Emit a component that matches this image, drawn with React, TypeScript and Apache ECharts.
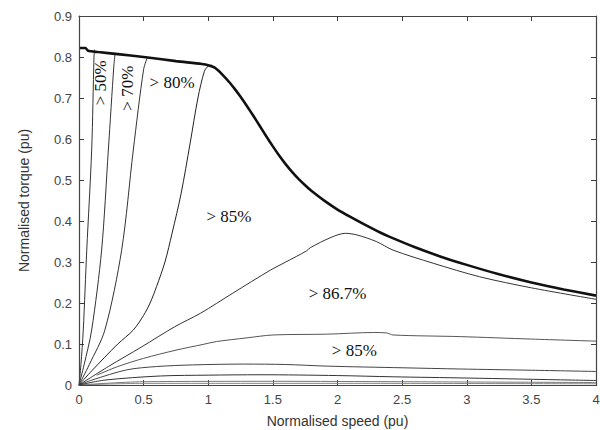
import React, { useEffect, useRef } from "react";
import * as echarts from "echarts";

const xTicks = { min: 0, max: 4, interval: 0.5 };
const yTicks = { min: 0, max: 0.9, interval: 0.1 };

const envX = [0, 0.05, 0.07, 0.15, 0.3, 0.5, 0.75, 0.95, 1.0, 1.05, 1.1, 1.17, 1.2, 1.25, 1.3, 1.35, 1.4, 1.45, 1.5, 1.55, 1.6, 1.65, 1.7, 1.76, 1.8, 1.9, 2.0, 2.1, 2.2, 2.33, 2.4, 2.6, 2.8, 3.0, 3.25, 3.5, 3.75, 4.0];
const envY = [0.822, 0.822, 0.815, 0.812, 0.807, 0.8, 0.79, 0.783, 0.78, 0.774, 0.76, 0.736, 0.724, 0.703, 0.68, 0.656, 0.631, 0.606, 0.582, 0.559, 0.538, 0.519, 0.502, 0.484, 0.473, 0.449, 0.428, 0.41, 0.393, 0.372, 0.362, 0.336, 0.313, 0.293, 0.27, 0.25, 0.233, 0.218];

const c1X = [0, 0.015, 0.033, 0.06, 0.098, 0.116, 0.12];
const c1Y = [0, 0.05, 0.134, 0.329, 0.573, 0.8, 0.818];
const c2X = [0, 0.04, 0.098, 0.175, 0.227, 0.27, 0.28];
const c2Y = [0, 0.05, 0.134, 0.329, 0.573, 0.78, 0.81];
const c3X = [0, 0.08, 0.2, 0.33, 0.42, 0.5, 0.53];
const c3Y = [0, 0.05, 0.134, 0.329, 0.573, 0.77, 0.8];
const c4X = [0, 0.1, 0.3, 0.42, 0.5, 0.55, 0.6, 0.665, 0.72, 0.79, 0.86, 0.92, 0.97, 1.0, 1.03];
const c4Y = [0, 0.035, 0.1, 0.134, 0.17, 0.2, 0.24, 0.3, 0.37, 0.467, 0.59, 0.7, 0.765, 0.778, 0.78];
const c5X = [0, 0.227, 0.485, 0.74, 0.94, 1.19, 1.48, 1.6, 1.76, 1.79, 1.95, 2.06, 2.15, 2.3, 2.43, 2.74, 3.1, 3.5, 4.0];
const c5Y = [0, 0.045, 0.093, 0.142, 0.175, 0.224, 0.28, 0.3, 0.327, 0.335, 0.36, 0.37, 0.366, 0.35, 0.329, 0.297, 0.264, 0.237, 0.209];
const c6X = [0.137, 0.3, 0.5, 0.75, 0.96, 1.065, 1.3, 1.5, 1.92, 2.28, 2.38, 2.43, 2.95, 3.5, 4.0];
const c6Y = [0.024, 0.045, 0.065, 0.085, 0.099, 0.106, 0.115, 0.122, 0.124, 0.128, 0.127, 0.122, 0.118, 0.112, 0.107];
const c7X = [0, 0.1, 0.37, 0.6, 0.88, 1.27, 1.6, 1.92, 2.5, 2.95, 3.5, 4.0];
const c7Y = [0, 0.012, 0.037, 0.045, 0.049, 0.051, 0.05, 0.046, 0.042, 0.039, 0.036, 0.033];
const c8X = [0, 0.2, 0.63, 1.0, 1.4, 2.0, 2.43, 3.0, 3.82, 4.0];
const c8Y = [0, 0.012, 0.022, 0.024, 0.025, 0.023, 0.02, 0.017, 0.012, 0.011];
const c9X = [0, 0.5, 1.5, 2.5, 4.0];
const c9Y = [0, 0.008, 0.009, 0.008, 0.006];
const c10X = [0, 0.5, 2.0, 4.0];
const c10Y = [0, 0.004, 0.004, 0.003];

const labelTexts = ["> 50%", "> 70%", "> 80%", "> 85%", "> 86.7%", "> 85%"];
const labelX = [0.17, 0.379, 0.72, 1.16, 2.0, 2.13];
const labelY = [0.737, 0.724, 0.739, 0.412, 0.222, 0.083];
const labelRot = [90, 90, 0, 0, 0, 0];

const zip = (xs: number[], ys: number[]) => xs.map((x, i) => [x, ys[i]]);

export default function App() {
  const ref = useRef<HTMLDivElement>(null);
  useEffect(() => {
    if (!ref.current) return;
    const chart = echarts.init(ref.current, undefined, { renderer: "svg" });
    const axisColor = "#3a3a3a";
    const labelColor = "#444";
    const thin = (xs: number[], ys: number[], color = "#2a2a2a", width = 1) => ({
      type: "line",
      data: zip(xs, ys),
      showSymbol: false,
      smooth: 0.3,
      lineStyle: { color, width },
      xAxisIndex: 0,
      yAxisIndex: 0,
      silent: true,
    });
    const axisLine = () => ({ show: true, onZero: false, lineStyle: { color: axisColor, width: 1 } });
    const axisTick = () => ({ show: true, inside: true, length: 5, lineStyle: { color: axisColor } });
    chart.setOption({
      animation: false,
      grid: { left: 79, right: 4, top: 16, bottom: 45, outerBoundsMode: "none" },
      xAxis: [
        {
          type: "value",
          ...xTicks,
          splitLine: { show: false },
          axisLine: axisLine(),
          axisTick: axisTick(),
          position: "bottom",
          name: "Normalised speed (pu)",
          nameLocation: "middle",
          nameGap: 29,
          nameTextStyle: { fontFamily: "Liberation Sans", fontSize: 14, color: "#333" },
          axisLabel: { fontFamily: "Liberation Sans", fontSize: 13, color: labelColor, margin: 8 },
        },
        {
          type: "value",
          ...xTicks,
          position: "top",
          splitLine: { show: false },
          axisLine: axisLine(),
          axisTick: axisTick(),
          axisLabel: { show: false },
        },
      ],
      yAxis: [
        {
          type: "value",
          ...yTicks,
          splitLine: { show: false },
          axisLine: axisLine(),
          axisTick: axisTick(),
          position: "left",
          name: "Normalised torque (pu)",
          nameLocation: "middle",
          nameGap: 48,
          nameTextStyle: { fontFamily: "Liberation Sans", fontSize: 14, color: "#333" },
          axisLabel: { fontFamily: "Liberation Sans", fontSize: 13, color: labelColor, margin: 7 },
        },
        {
          type: "value",
          ...yTicks,
          position: "right",
          splitLine: { show: false },
          axisLine: axisLine(),
          axisTick: axisTick(),
          axisLabel: { show: false },
        },
      ],
      series: [
        thin(c10X, c10Y, "#888"),
        thin(c9X, c9Y, "#777"),
        thin(c8X, c8Y, "#333"),
        thin(c7X, c7Y, "#444"),
        thin(c6X, c6Y, "#555"),
        thin(c5X, c5Y, "#333"),
        thin(c4X, c4Y, "#222"),
        thin(c3X, c3Y, "#333"),
        thin(c2X, c2Y, "#333"),
        thin(c1X, c1Y, "#333"),
        { ...thin(envX, envY, "#111", 2.6), smooth: 0.25 },
      ],
    });
    const px = (x: number, y: number) => chart.convertToPixel({ gridIndex: 0 }, [x, y]) as number[];
    const [bx0, by0] = px(xTicks.min, yTicks.max);
    const [bx1, by1] = px(xTicks.max, yTicks.min);
    const graphics: any[] = [
      {
        type: "rect",
        z: 100,
        silent: true,
        shape: {
          x: Math.round(bx0) + 0.5,
          y: Math.round(by0) + 0.5,
          width: Math.round(bx1) - Math.round(bx0),
          height: Math.round(by1) - Math.round(by0),
        },
        style: { fill: "none", stroke: "#444", lineWidth: 1.2 },
      },
    ];
    labelTexts.forEach((t, i) => {
      const [lx, ly] = px(labelX[i], labelY[i]);
      graphics.push({
        type: "text",
        x: lx,
        y: ly,
        rotation: (labelRot[i] * Math.PI) / 180,
        style: {
          text: t,
          fontFamily: "Liberation Serif",
          fontSize: 17,
          fill: "#111",
          align: "center",
          verticalAlign: "middle",
        },
        silent: true,
      });
    });
    chart.setOption({ graphic: graphics });
    return () => chart.dispose();
  }, []);
  return (
    <div
      ref={ref}
      style={{ position: "fixed", left: 0, top: 0, width: 600, height: 430, background: "#fff" }}
    />
  );
}
